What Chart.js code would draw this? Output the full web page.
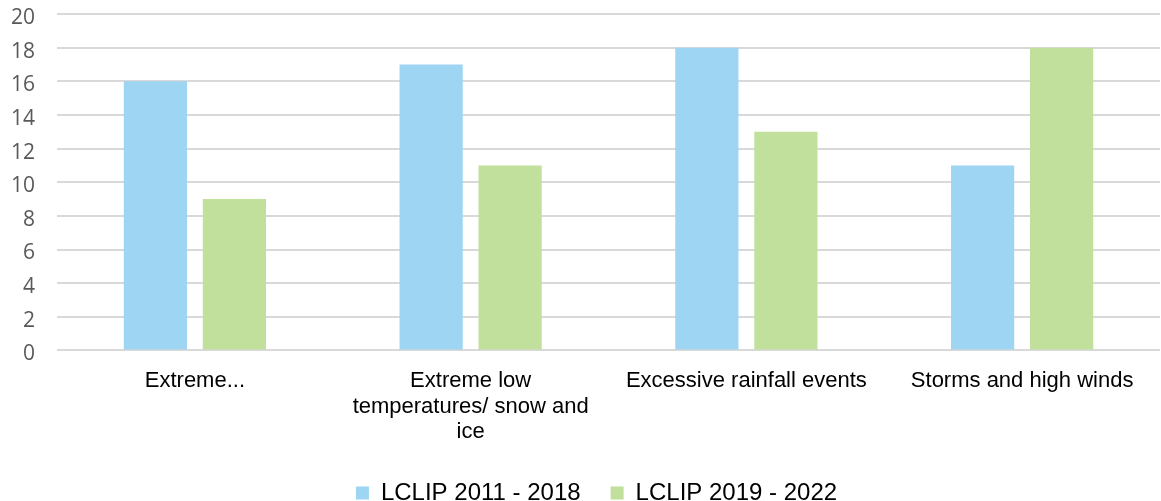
<!DOCTYPE html>
<html>
<head>
<meta charset="utf-8">
<script src="https://cdn.jsdelivr.net/npm/chart.js@4/dist/chart.umd.min.js"></script>
<style>
  html, body { margin: 0; padding: 0; background: #fff; }
  #wrap { width: 1161px; height: 501px; }
</style>
</head>
<body>
<div id="wrap"><canvas id="myChart"></canvas></div>
<script>
// data
const categories = [
    'Extreme...',
    ['Extreme low', 'temperatures/ snow and', 'ice'],
    'Excessive rainfall events',
    'Storms and high winds'
];
const lclip2011 = [16, 17, 18, 11];
const lclip2019 = [9, 11, 13, 18];
const seriesNames = ['LCLIP 2011 - 2018', 'LCLIP 2019 - 2022'];

// nudge the legend a bit to the right, like the original
const shiftLegend = {
    id: 'shiftLegend',
    afterLayout(chart) {
        chart.legend.left += 22;
        chart.legend.right += 22;
    }
};

const ctx = document.getElementById('myChart').getContext('2d');
new Chart(ctx, {
    type: 'bar',
    data: {
        labels: categories,
        datasets: [{
            label: seriesNames[0],
            data: lclip2011,
            backgroundColor: '#9dd5f2'
        }, {
            label: seriesNames[1],
            data: lclip2019,
            backgroundColor: '#c0e09c'
        }]
    },
    plugins: [shiftLegend],
    options: {
        responsive: true,
        maintainAspectRatio: false,
        animation: false,
        categoryPercentage: 0.573,
        barPercentage: 0.8,
        layout: { padding: { top: 14, right: 1, left: -11, bottom: -14 } },
        plugins: {
            tooltip: { enabled: false },
            legend: {
                position: 'bottom',
                labels: {
                    color: '#000',
                    font: { family: 'Liberation Sans, Arial', size: 24, lineHeight: 1.28 },
                    boxWidth: 13,
                    boxHeight: 13,
                    padding: 30
                }
            }
        },
        scales: {
            y: {
                min: 0,
                max: 20,
                ticks: {
                    stepSize: 2,
                    color: '#595959',
                    font: { family: 'Open Sans', size: 21 },
                    padding: 22,
                    labelOffset: 4
                },
                grid: {
                    color: '#d9d9d9',
                    lineWidth: 2,
                    drawTicks: false
                },
                border: { display: false },
                // tick padding would otherwise push the plot down
                afterFit(scale) {
                    scale.paddingTop = 0;
                }
            },
            x: {
                grid: { display: false, drawTicks: false },
                border: { display: false },
                ticks: {
                    color: '#000',
                    font: { family: 'Liberation Sans, Arial', size: 22, lineHeight: 1.16 },
                    maxRotation: 0,
                    padding: 18
                },
                afterFit(scale) {
                    scale.height -= 12;
                }
            }
        }
    }
});
</script>
</body>
</html>
